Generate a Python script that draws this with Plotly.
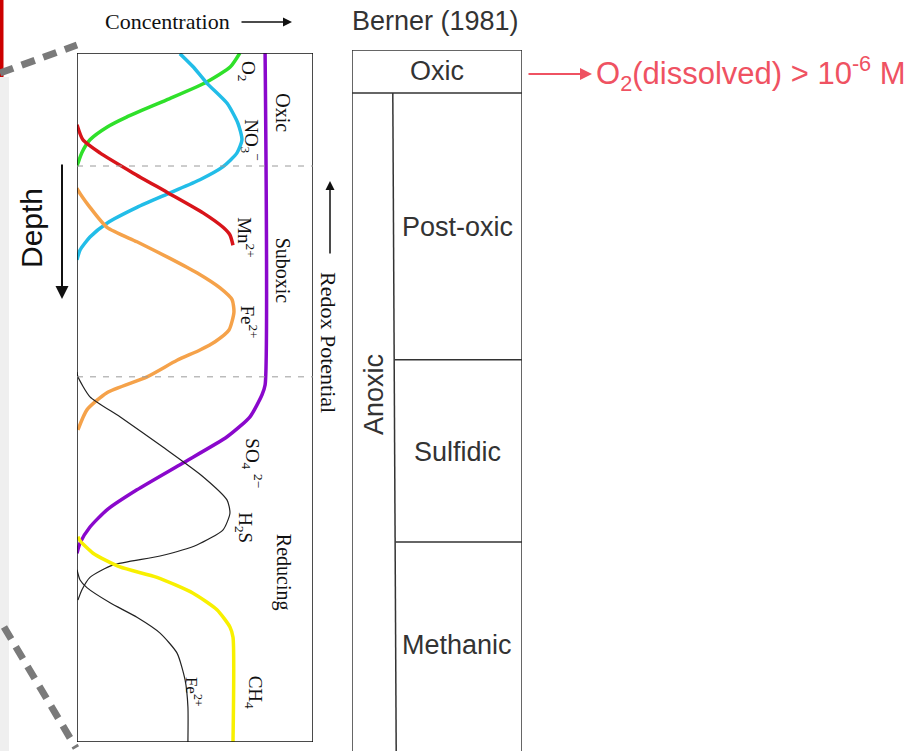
import plotly.graph_objects as go

W, H = 921, 751

# ---------------- data (relative concentration 0-100, relative depth 0-100) -------------
o2_conc = [69, 65, 55, 38, 21, 13, 5.5, 2, 0.4, 0]
o2_depth = [0, 2, 4.2, 6.8, 9.3, 10.7, 12.6, 14.5, 16, 16.4]

no3_conc = [43.6, 49.2, 55.1, 63.6, 68.2, 69.9, 67.8, 61.9, 52.1, 39.4, 25.4, 12.7, 5.5, 1.3, 0]
no3_depth = [0.1, 2.0, 4.4, 7.3, 10.2, 12.6, 14.5, 16.5, 18.4, 20.3, 22.4, 24.7, 26.7, 28.6, 30.0]

mn_conc = [0, 2.5, 9.7, 23.7, 38.1, 53.4, 61.9, 64.8, 66.1]
mn_depth = [10.4, 12.6, 14.5, 17.4, 20.2, 23.2, 25.3, 26.4, 27.9]

fe_conc = [0, 0.4, 5.5, 12.7, 25.4, 39.4, 50.8, 60.6, 65.7, 66.5, 64.4, 58.5, 52.1, 42.4, 29.7, 12.7, 4.2, 0.4]
fe_depth = [19.6, 19.9, 22.4, 25.3, 27.4, 29.8, 31.9, 34.1, 35.8, 37.6, 40.2, 41.9, 43.1, 44.6, 47.0, 49.3, 51.8, 54.7]

so4_conc = [79.7, 79.7, 78.4, 73.3, 63.6, 44.9, 25.4, 12.7, 5.5, 1.3, 0]
so4_depth = [0, 48.2, 49.6, 52.8, 55.7, 59.5, 63.4, 66.3, 68.8, 71.1, 72.6]

h2s_conc = [0, 0.4, 5.5, 18.2, 36.4, 53.4, 63.6, 64.8, 61.9, 50.8, 35.2, 15.3, 5.5, 2.1, 0.4]
h2s_depth = [46.3, 47.0, 49.9, 52.8, 57.2, 61.5, 64.9, 66.8, 69.2, 71.4, 73.0, 74.3, 76.1, 77.9, 79.4]

fe2_conc = [0, 1.3, 4.2, 14.0, 25.4, 35.2, 42.4, 45.8, 47.0, 47.0]
fe2_depth = [75.0, 76.5, 77.6, 79.8, 81.9, 84.2, 87.1, 91.0, 94.9, 100]

ch4_conc = [0.4, 1.3, 6.8, 18.2, 33.9, 49.2, 59.3, 64.8, 66.1, 66.1]
ch4_depth = [70.2, 70.8, 72.6, 74.6, 76.1, 78.4, 80.8, 83.3, 84.8, 100]

zone_bounds_left = [16.4, 47.0]
zone_labels_left = ["Oxic", "Suboxic", "Reducing"]
zone_label_depth_left = [8.6, 31.6, 75.3]

# Berner (1981) column
berner_oxic_bottom = 6.13
berner_bounds = [44.2, 70.2]
berner_labels = ["Post-oxic", "Sulfidic", "Methanic"]
berner_label_depth = [25.2, 57.3, 84.9]

# ---------------- figure ----------------
fig = go.Figure()

series = [
    (o2_conc, o2_depth, "#2fe02a", 3.5),
    (no3_conc, no3_depth, "#22bde8", 3.5),
    (mn_conc, mn_depth, "#d8141a", 3.5),
    (fe_conc, fe_depth, "#f5a24a", 3.5),
    (so4_conc, so4_depth, "#8a08cc", 3.5),
    (h2s_conc, h2s_depth, "#222222", 1.2),
    (fe2_conc, fe2_depth, "#222222", 1.2),
    (ch4_conc, ch4_depth, "#f8f000", 3.5),
]
for xs, ys, col, lw in series:
    fig.add_trace(go.Scatter(x=xs, y=ys, mode="lines", line=dict(color=col, width=lw, shape="spline", smoothing=0.6),
                             xaxis="x", yaxis="y", showlegend=False, hoverinfo="skip"))

def px(xp):
    return xp / W

def py(yp):
    return 1 - yp / H

fig.update_layout(
    width=W, height=H, margin=dict(l=0, r=0, t=0, b=0),
    paper_bgcolor="white", plot_bgcolor="rgba(0,0,0,0)",
    xaxis=dict(domain=[px(77), px(313)], range=[0, 100], visible=False, fixedrange=True),
    yaxis=dict(domain=[py(742), py(53)], range=[100, 0], visible=False, fixedrange=True),
    xaxis2=dict(domain=[px(352), px(522)], range=[0, 100], visible=False, anchor="y2"),
    yaxis2=dict(domain=[0, py(50)], range=[100, 0], visible=False, anchor="x2"),
    showlegend=False,
)

shapes = []
# left panel frame and zone dashed lines
shapes.append(dict(type="rect", xref="x", yref="y", x0=0, x1=100, y0=0, y1=100, line=dict(color="#111", width=1.5)))
for b in zone_bounds_left:
    shapes.append(dict(type="line", xref="x", yref="y", x0=0, x1=100, y0=b, y1=b, line=dict(color="#9a9a9a", width=1, dash="6px,7px")))

# Berner column
blk = dict(color="#333", width=1.5)
shapes.append(dict(type="line", xref="x2", yref="y2", x0=0, x1=100, y0=0, y1=0, line=blk))
shapes.append(dict(type="line", xref="x2", yref="y2", x0=0, x1=0, y0=0, y1=100, line=blk))
shapes.append(dict(type="line", xref="x2", yref="y2", x0=100, x1=100, y0=0, y1=100, line=blk))
shapes.append(dict(type="line", xref="x2", yref="y2", x0=0, x1=100, y0=berner_oxic_bottom, y1=berner_oxic_bottom, line=blk))
shapes.append(dict(type="line", xref="x2", yref="y2", x0=24, x1=26, y0=berner_oxic_bottom, y1=100, line=blk))
for b in berner_bounds:
    shapes.append(dict(type="line", xref="x2", yref="y2", x0=24.6 + b * 0.014, x1=100, y0=b, y1=b, line=blk))

# decorations of the slide
shapes.append(dict(type="rect", xref="paper", yref="paper", x0=0, x1=px(9), y0=0, y1=py(77),
                   line=dict(width=0), fillcolor="#efefef", layer="below"))
shapes.append(dict(type="rect", xref="paper", yref="paper", x0=0, x1=px(3.5), y0=py(77), y1=1,
                   line=dict(width=0), fillcolor="#cc0000"))
shapes.append(dict(type="line", xref="paper", yref="paper", x0=px(0), y0=py(73), x1=px(77), y1=py(45),
                   line=dict(color="#7a7a7a", width=7, dash="14px,9px")))
shapes.append(dict(type="line", xref="paper", yref="paper", x0=px(4), y0=py(627), x1=px(76), y1=py(748),
                   line=dict(color="#7a7a7a", width=7, dash="14px,9px")))
fig.update_layout(shapes=shapes)

serif = "Liberation Serif"
sans = "Liberation Sans"
ann = []

def lab(text, x, y, size=19, angle=90, xref="x", yref="y", font=serif, color="#111"):
    ann.append(dict(text=text, x=x, y=y, xref=xref, yref=yref, showarrow=False, textangle=angle,
                    xanchor="center", yanchor="middle", font=dict(family=font, size=size, color=color)))

# curve labels
lab("O<sub>2</sub>", 72, 2.6)
lab("NO<sub>3</sub><sup>−</sup>", 74, 12.6)
lab("Mn<sup>2+</sup>", 71.8, 26.8)
lab("Fe<sup>2+</sup>", 73, 39.0)
lab("SO<sub>4</sub> <sup>2−</sup>", 74, 59.5)
lab("H<sub>2</sub>S", 71, 68.9)
lab("CH<sub>4</sub>", 75, 92.7)
lab("Fe<sup>2+</sup>", 49.5, 92.7, size=17)

for t, d in zip(zone_labels_left, zone_label_depth_left):
    lab(t, 87.3, d, size=20)

lab("Redox Potential", px(329), py(342), size=22, xref="paper", yref="paper")
lab("Concentration", px(167), py(21), size=22, angle=0, xref="paper", yref="paper")
lab("Depth", px(32), py(228), size=30, angle=-90, xref="paper", yref="paper", font=sans, color="#111")

# Berner column labels
lab("Berner (1981)", px(435), py(21), size=27, angle=0, xref="paper", yref="paper", font=sans, color="#333")
lab("Oxic", 50, berner_oxic_bottom / 2, size=27, angle=0, xref="x2", yref="y2", font=sans, color="#333")
for t, d in zip(berner_labels, berner_label_depth):
    lab(t, 62, d, size=27, angle=0, xref="x2", yref="y2", font=sans, color="#333")
lab("Anoxic", 13, 49.2, size=27, angle=-90, xref="x2", yref="y2", font=sans, color="#333")

ann.append(dict(text="O<sub>2</sub>(dissolved) > 10<sup>-6</sup> M", x=px(594), y=py(74), xref="paper", yref="paper",
                showarrow=False, xanchor="left", yanchor="middle", font=dict(family=sans, size=31, color="#ef5262")))

# arrows
def arrow(xt, yt, axo, ayo, color="#111", width=1.5, size=1.2):
    ann.append(dict(text="", x=px(xt), y=py(yt), xref="paper", yref="paper", ax=axo, ay=ayo,
                    axref="pixel", ayref="pixel", showarrow=True, arrowhead=2, arrowsize=size,
                    arrowwidth=width, arrowcolor=color))

arrow(292, 22, -52, 0)
arrow(330, 181, 0, 74)
arrow(62, 299, 0, -136, width=2, size=1.3)
arrow(592, 74, -65, 0, color="#ef5262", width=2, size=1.2)

fig.update_layout(annotations=ann)
fig.write_html("out.html", config={"displayModeBar": False},
               post_script="document.body.style.margin='0px';document.body.style.overflow='hidden';")
